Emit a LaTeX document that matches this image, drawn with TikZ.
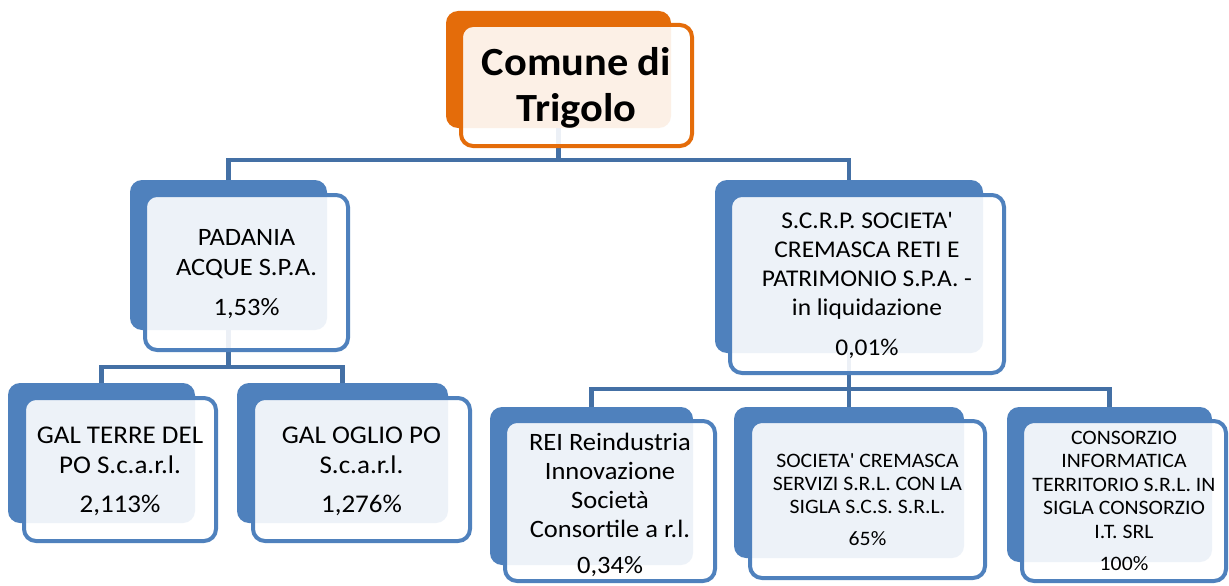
\documentclass[tikz,border=0pt]{standalone}
\usepackage{fontspec}
\setmainfont{Carlito}[FakeStretch=1.06]
\definecolor{accblue}{HTML}{4F81BD}
\definecolor{connblue}{HTML}{4470A5}
\definecolor{accorange}{HTML}{E46C0A}
\tikzset{
  backbox/.style={fill=#1, draw=none, rounded corners=12pt, inner sep=0pt},
  frontbox/.style={fill=white, fill opacity=0.9, draw=#1, line width=4pt, rounded corners=12pt, inner sep=0pt},
  conn/.style={draw=connblue, line width=4.5pt},
  label/.style={align=center, inner sep=0pt, text=black}
}
\begin{document}
\begin{tikzpicture}[x=1pt,y=-1pt]
\useasboundingbox (0,0) rectangle (1229,586);
\fill[white] (0,0) rectangle (1229,586);

% back boxes (named, for connectors)
\node[backbox=accorange, minimum width=225pt, minimum height=117pt] (cb) at (558.5,69.5) {};
\node[backbox=accblue, minimum width=197pt, minimum height=150pt] (pb) at (228.5,255) {};
\node[backbox=accblue, minimum width=187pt, minimum height=140pt] (g1b) at (101.5,453) {};
\node[backbox=accblue, minimum width=211pt, minimum height=140pt] (g2b) at (342.5,453) {};
\node[backbox=accblue, minimum width=268pt, minimum height=173pt] (sb) at (849,266.5) {};
\node[backbox=accblue, minimum width=203pt, minimum height=158pt] (rb) at (591.5,486) {};
\node[backbox=accblue, minimum width=230pt, minimum height=151pt] (ob) at (849,482.5) {};
\node[backbox=accblue, minimum width=205pt, minimum height=155pt] (kb) at (1109.5,484.5) {};

% connectors (partly seen through the front boxes)
\coordinate (j1) at (558.5,160);
\coordinate (j2) at (228.5,367);
\coordinate (j3) at (849,389);
\draw[conn] (cb.south) -- (j1);
\draw[conn] (j1) -| (pb.north);
\draw[conn] (j1) -| (sb.north);
\draw[conn] (pb.south) -- (j2);
\draw[conn] (j2) -| (g1b.north);
\draw[conn] (j2) -| (g2b.north);
\draw[conn] (sb.south) -- (j3);
\draw[conn] (j3) -| (rb.north);
\draw[conn] (j3) -- (ob.north);
\draw[conn] (j3) -| (kb.north);

% front boxes
\node[frontbox=accorange, minimum width=231pt, minimum height=121pt] (cf) at (576.5,85.5) {};
\node[frontbox=accblue, minimum width=203pt, minimum height=155pt] (pf) at (246.5,272.5) {};
\node[frontbox=accblue, minimum width=192pt, minimum height=143pt] (g1f) at (120,469.5) {};
\node[frontbox=accblue, minimum width=217pt, minimum height=143pt] (g2f) at (361.5,469.5) {};
\node[frontbox=accblue, minimum width=274pt, minimum height=178pt] (sf) at (867,284) {};
\node[frontbox=accblue, minimum width=210pt, minimum height=160pt] (rf) at (610,501) {};
\node[frontbox=accblue, minimum width=235pt, minimum height=157pt] (of) at (867.5,499.5) {};
\node[frontbox=accblue, minimum width=204pt, minimum height=160pt] (kf) at (1124,501) {};

% labels
\node[label, font=\fontsize{40}{46}\selectfont\bfseries] (ct) at (576.5,88) {Comune di\\Trigolo};
\node[label, font=\fontsize{25}{30}\selectfont] (pt) at (246.5,274) {PADANIA\\ACQUE S.P.A.\\[10pt]1,53\%};
\node[label, font=\fontsize{25.5}{29.5}\selectfont] (g1t) at (120,471.5) {GAL TERRE DEL\\PO S.c.a.r.l.\\[10pt]2,113\%};
\node[label, font=\fontsize{25.5}{29.5}\selectfont] (g2t) at (361.5,471.5) {GAL OGLIO PO\\S.c.a.r.l.\\[10pt]1,276\%};
\node[label, font=\fontsize{24}{29}\selectfont] (st) at (867,285.5) {S.C.R.P. SOCIETA\textquotesingle\\CREMASCA RETI E\\PATRIMONIO S.P.A. -\\in liquidazione\\[11pt]0,01\%};
\node[label, font=\fontsize{25}{29}\selectfont] (rt) at (610,505) {REI Reindustria\\Innovazione\\Società\\Consortile a r.l.\\[7pt]0,34\%};
\node[label, font=\fontsize{20.5}{23}\selectfont] (ot) at (867.5,500) {SOCIETA\textquotesingle{} CREMASCA\\SERVIZI S.R.L. CON LA\\SIGLA S.C.S. S.R.L.\\[9pt]65\%};
\node[label, font=\fontsize{20.5}{23.5}\selectfont] (kt) at (1124,501) {CONSORZIO\\INFORMATICA\\TERRITORIO S.R.L. IN\\SIGLA CONSORZIO\\I.T. SRL\\[9pt]100\%};
\end{tikzpicture}
\end{document}
